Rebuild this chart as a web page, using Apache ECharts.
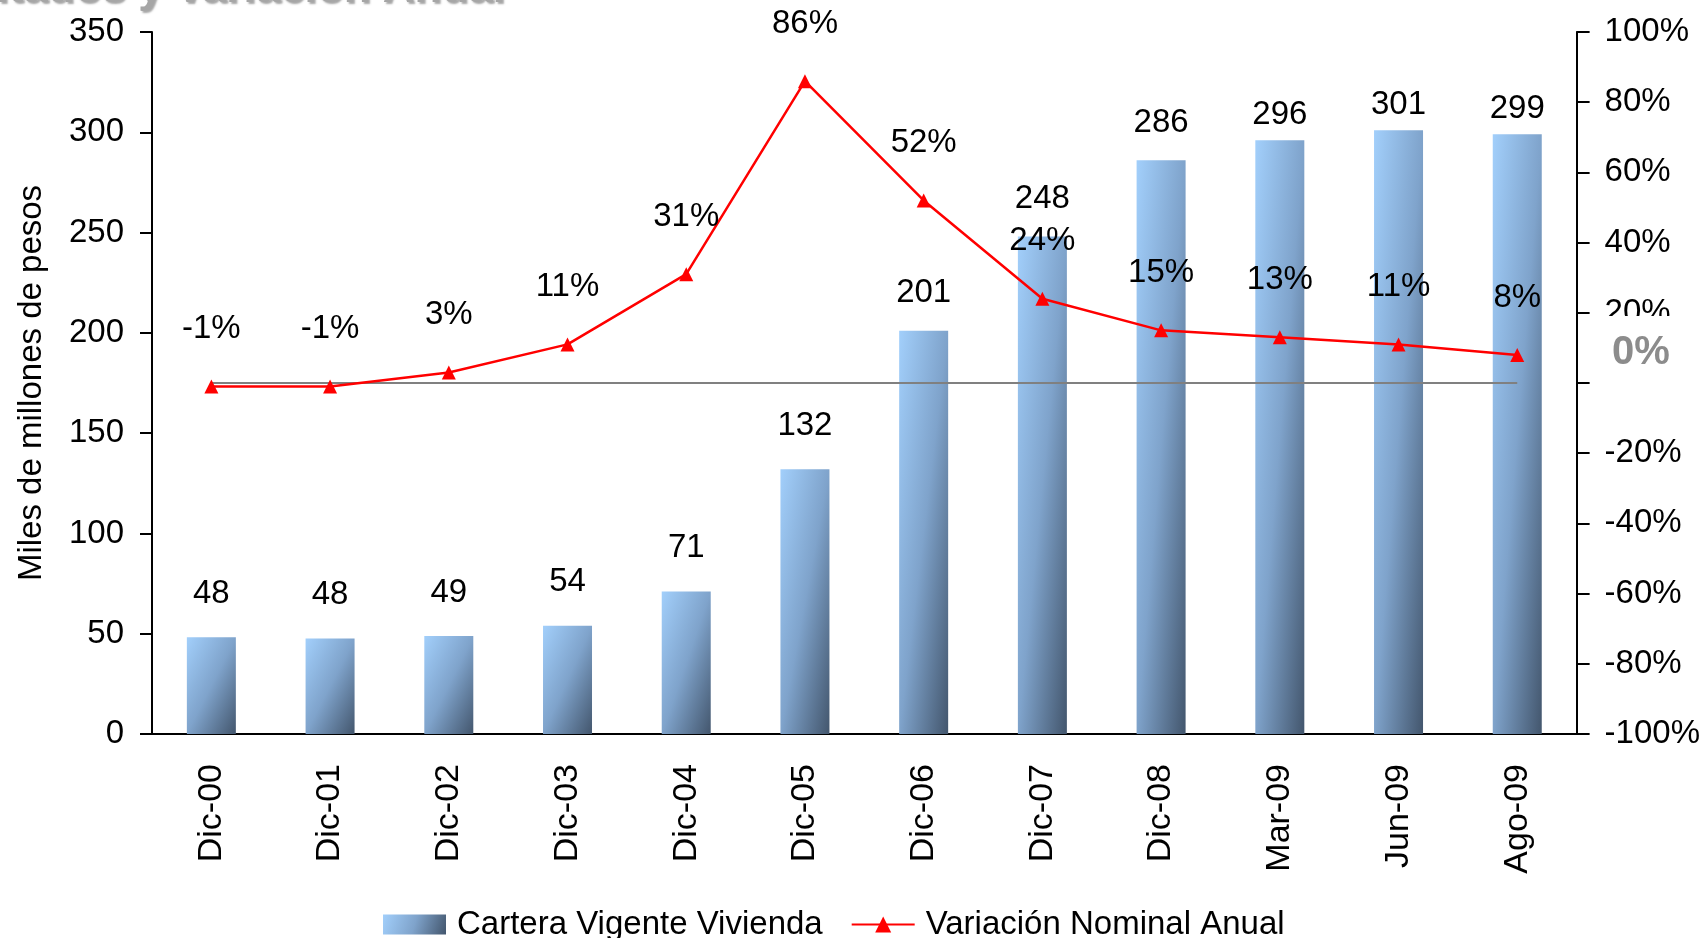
<!DOCTYPE html>
<html>
<head>
<meta charset="utf-8">
<script src="https://cdn.jsdelivr.net/npm/echarts@6/dist/echarts.min.js"></script>
<style>
  html, body { margin: 0; padding: 0; background: #fff; }
  #chart { width: 1703px; height: 938px; }
</style>
</head>
<body>
<div id="chart"></div>
<script>
const categories = ['Dic-00', 'Dic-01', 'Dic-02', 'Dic-03', 'Dic-04', 'Dic-05', 'Dic-06', 'Dic-07', 'Dic-08', 'Mar-09', 'Jun-09', 'Ago-09']
const cartera = [48.2, 47.6, 48.8, 54, 71, 132, 201, 248, 286, 296, 301, 299]
const variacion = [-1, -1, 3, 11, 31, 86, 52, 24, 15, 13, 11, 8]
const baseline = [0, 0, 0, 0, 0, 0, 0, 0, 0, 0, 0, 0]
const leftTicks = { min: 0, max: 350, interval: 50 }
const rightTicks = { min: -100, max: 100, interval: 20 }

const font = '"Liberation Sans", Arial, sans-serif'
const gridTop = 32
const gridBottom = 204
const plotHeight = 938 - gridTop - gridBottom
const barWidth = 49

const gradStops = [
  { offset: 0, color: '#A2CFFB' },
  { offset: 0.5, color: '#7FA3CB' },
  { offset: 1, color: '#43566D' }
]

// diagonal shading that follows the bar's own box, like the office-style fill
const barFill = v => {
  const h = v / leftTicks.max * plotHeight
  const w = barWidth
  const x2 = 2 * h * h / (h * h + w * w)
  const y2 = 2 * w * w / (h * h + w * w)
  return new echarts.graphic.LinearGradient(0, 0, x2, y2, gradStops)
}

// tall bars have their value sitting closer to the top
const barLabelGap = v => (v < 150 ? 27 : v < 290 ? 21 : 9)

const chart = echarts.init(document.getElementById('chart'))

const option = {
  animation: false,
  textStyle: { fontFamily: font },
  grid: { left: 152, right: 125, top: gridTop, bottom: gridBottom },
  legend: {
    left: 378,
    top: 903,
    itemWidth: 63,
    itemHeight: 20,
    itemGap: 28,
    data: [
      { name: 'Cartera Vigente Vivienda', icon: 'rect' },
      { name: 'Variación Nominal Anual' }
    ],
    textStyle: { fontSize: 33, color: '#000', fontFamily: font, padding: [0, 0, 0, 6] }
  },
  xAxis: {
    type: 'category',
    data: categories,
    axisLine: { lineStyle: { color: '#000', width: 2 } },
    axisTick: { length: 12, lineStyle: { color: '#000', width: 2 } },
    axisLabel: { rotate: 90, fontSize: 34, color: '#000', margin: 30, fontFamily: font }
  },
  yAxis: [
    {
      type: 'value',
      min: leftTicks.min,
      max: leftTicks.max,
      interval: leftTicks.interval,
      name: 'Miles de millones de pesos',
      nameLocation: 'middle',
      nameGap: 104,
      nameTextStyle: { fontSize: 33, color: '#000', fontFamily: font },
      splitLine: { show: false },
      axisLine: { show: true, lineStyle: { color: '#000', width: 2 } },
      axisTick: { show: true, length: 12, lineStyle: { color: '#000', width: 2 } },
      axisLabel: { fontSize: 33, color: '#000', margin: 28, fontFamily: font }
    },
    {
      type: 'value',
      min: rightTicks.min,
      max: rightTicks.max,
      interval: rightTicks.interval,
      position: 'right',
      splitLine: { show: false },
      axisLine: { show: true, lineStyle: { color: '#000', width: 2 } },
      axisTick: { show: true, length: 13, lineStyle: { color: '#000', width: 2 } },
      axisLabel: {
        fontSize: 33, color: '#000', margin: 28, fontFamily: font,
        formatter: v => (v === 0 ? '' : v + '%')
      }
    }
  ],
  series: [
    {
      name: 'Cartera Vigente Vivienda',
      type: 'bar',
      data: cartera.map(v => ({
        value: v,
        itemStyle: { color: barFill(v) },
        label: { distance: barLabelGap(v) }
      })),
      barWidth: barWidth,
      itemStyle: { color: new echarts.graphic.LinearGradient(0, 0, 1, 1, gradStops) },
      label: {
        show: true,
        position: 'top',
        fontSize: 33,
        color: '#000',
        fontFamily: font,
        formatter: p => Math.round(p.value)
      }
    },
    {
      name: 'cero',
      type: 'line',
      yAxisIndex: 1,
      data: baseline,
      symbol: 'none',
      silent: true,
      lineStyle: { color: '#808080', width: 2 },
      z: 3
    },
    {
      name: 'Variación Nominal Anual',
      type: 'line',
      yAxisIndex: 1,
      data: variacion,
      symbol: 'triangle',
      symbolSize: 14,
      lineStyle: { color: '#FF0000', width: 2.5 },
      itemStyle: { color: '#FF0000' },
      z: 4,
      label: {
        show: true,
        position: 'top',
        distance: 34,
        fontSize: 33,
        color: '#000',
        fontFamily: font,
        formatter: p => p.value + '%'
      }
    }
  ],
  graphic: [
    {
      type: 'text',
      right: 1703 - 505,
      top: -32,
      z: 100,
      style: {
        text: 'Resultados y Variación Anual',
        font: 'bold 44px "Liberation Sans", Arial, sans-serif',
        fill: '#A6A6A6',
        textShadowColor: 'rgba(0,0,0,0.35)',
        textShadowOffsetX: 2,
        textShadowOffsetY: 2,
        textShadowBlur: 2
      }
    },
    {
      type: 'rect',
      left: 1586,
      top: 316,
      z: 100,
      shape: { width: 110, height: 60 },
      style: { fill: '#fff' }
    },
    {
      type: 'text',
      left: 1612,
      top: 333,
      z: 101,
      style: {
        text: '0%',
        font: 'bold 40px "Liberation Sans", Arial, sans-serif',
        fill: '#8C8C8C'
      }
    }
  ]
}

chart.setOption(option)
</script>
</body>
</html>
